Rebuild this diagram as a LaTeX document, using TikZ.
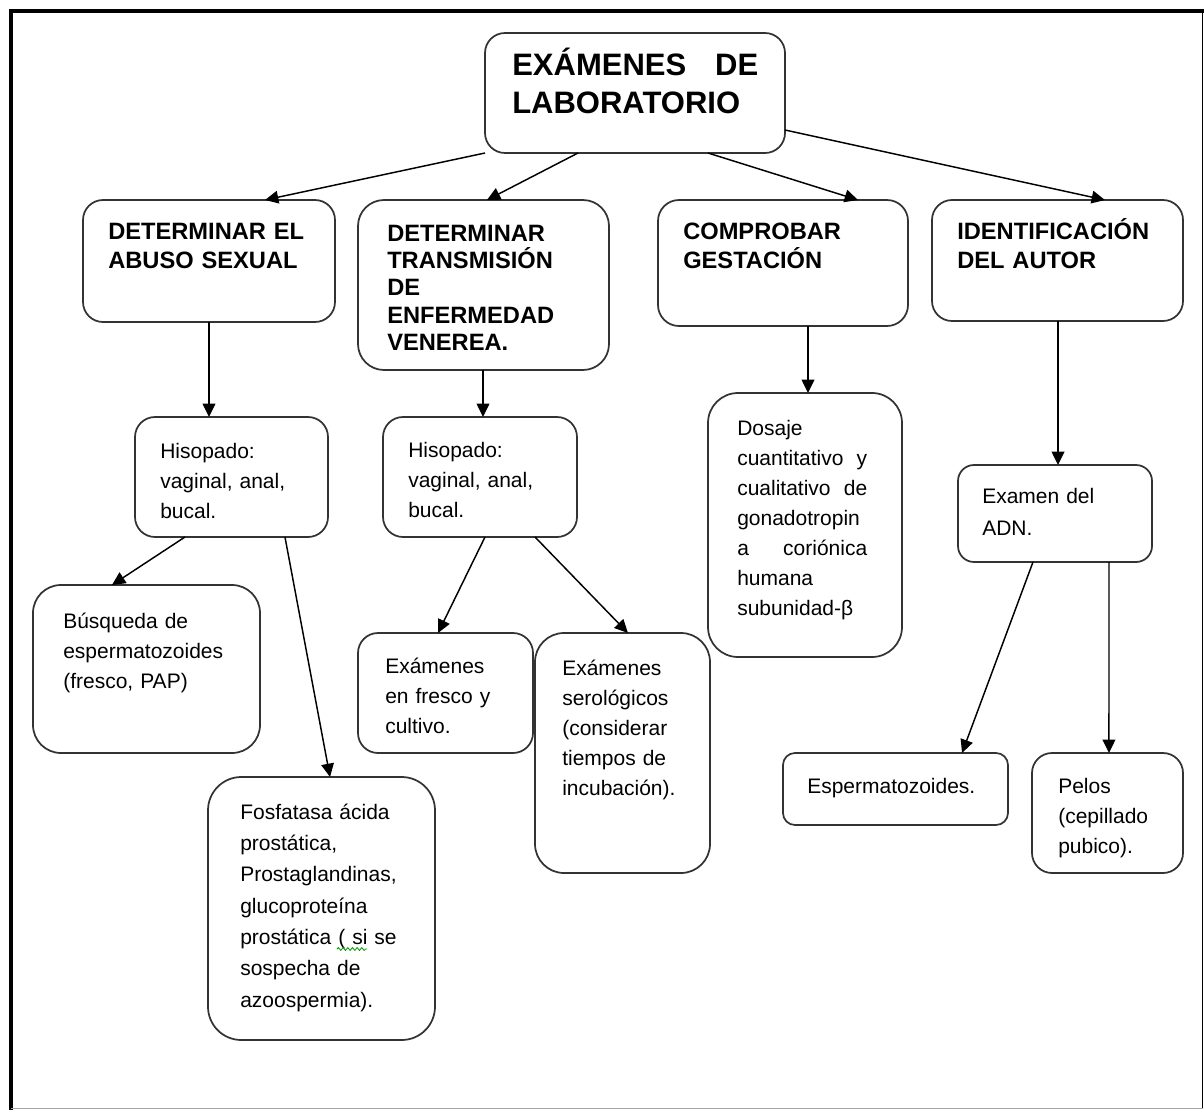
\documentclass[tikz,border=0pt]{standalone}
\usepackage{fontspec}
\setmainfont{Liberation Sans}
\usetikzlibrary{arrows.meta,decorations.pathmorphing}
\newcommand\titlefnt{\fontsize{23.25pt}{28.5pt}\selectfont\bfseries}
\newcommand\headfnt{\fontsize{17.75pt}{21.75pt}\selectfont\bfseries}
\newcommand\headfntb{\fontsize{17.75pt}{20.5pt}\selectfont\bfseries}
\newcommand\bodyfnt{\fontsize{15.75pt}{22.5pt}\selectfont}
\newcommand\bodyfntb{\fontsize{15.75pt}{23.5pt}\selectfont}
\newcommand\bodyfntc{\fontsize{15.75pt}{24pt}\selectfont}
\begin{document}
\begin{tikzpicture}[x=0.75pt,y=-0.75pt,
  box/.style={draw=black!80, line width=1.3pt, inner sep=0pt, outer sep=0pt, fill=white},
  txt/.style={anchor=base west, inner sep=0pt, text width=240pt, align=left},
  arr/.style={line width=1.1pt, -{Triangle[length=10pt,width=9.5pt]}}]
\fill[white] (0,0) rectangle (1204,1110);
\useasboundingbox (0,0) rectangle (1204,1110);
% frame
\draw[line width=3pt] (1204,10.5) -- (11,10.5) -- (11,1110);
\draw[line width=0.9pt] (1202.5,10.5) -- (1202.5,1108.5);
\draw[line width=0.75pt, black!35] (11,1108.5) -- (1202.5,1108.5);
% boxes
\node[box, rounded corners=15pt, minimum width=225pt, minimum height=90pt] (title) at (635,93) {};
\node[box, rounded corners=15pt, minimum width=189pt, minimum height=91.5pt] (h1) at (209,261) {};
\node[box, rounded corners=19.5pt, minimum width=188.25pt, minimum height=127.5pt] (h2) at (483.5,285) {};
\node[box, rounded corners=15.75pt, minimum width=187.5pt, minimum height=94.5pt] (h3) at (783,263) {};
\node[box, rounded corners=15pt, minimum width=188.25pt, minimum height=90.75pt] (h4) at (1057.5,260.5) {};
\node[box, rounded corners=15pt, minimum width=144.75pt, minimum height=90pt] (s1) at (231.5,477) {};
\node[box, rounded corners=15pt, minimum width=145.5pt, minimum height=90pt] (s2) at (480,477) {};
\node[box, rounded corners=22.5pt, minimum width=145.5pt, minimum height=198pt] (dos) at (805,525) {};
\node[box, rounded corners=12pt, minimum width=145.5pt, minimum height=72.75pt] (adn) at (1055,513.5) {};
\node[box, rounded corners=21pt, minimum width=170.25pt, minimum height=126pt] (bus) at (146.5,669) {};
\node[box, rounded corners=25pt, minimum width=170.25pt, minimum height=197.25pt] (fos) at (321.5,908.5) {};
\node[box, rounded corners=15pt, minimum width=131.25pt, minimum height=90pt] (fre) at (445.5,693) {};
\node[box, rounded corners=21.75pt, minimum width=131.25pt, minimum height=180pt] (ser) at (622.5,753) {};
\node[box, rounded corners=9pt, minimum width=168.75pt, minimum height=54pt] (esp) at (895.5,789) {};
\node[box, rounded corners=15pt, minimum width=113.25pt, minimum height=90pt] (pel) at (1107.5,813) {};
% texts
\node[txt, font=\titlefnt] (titlet) at (512,75) {\makebox[184.5pt][s]{EXÁMENES\hfill DE}\\LABORATORIO};
\node[txt, font=\headfnt] (h1t) at (108,239) {DETERMINAR EL\\ABUSO SEXUAL};
\node[txt, font=\headfntb] (h2t) at (387,241) {DETERMINAR\\TRANSMISIÓN\\DE\\ENFERMEDAD\\VENEREA.};
\node[txt, font=\headfnt] (h3t) at (683,239) {COMPROBAR\\GESTACIÓN};
\node[txt, font=\headfnt] (h4t) at (957,239) {IDENTIFICACIÓN\\DEL AUTOR};
\node[txt, font=\bodyfnt] (s1t) at (160,458) {Hisopado:\\vaginal, anal,\\bucal.};
\node[txt, font=\bodyfnt] (s2t) at (408,457) {Hisopado:\\vaginal, anal,\\bucal.};
\node[txt, font=\bodyfnt] (dost) at (737,435) {Dosaje\\\makebox[97.5pt][s]{cuantitativo\hfill y}\\\makebox[97.5pt][s]{cualitativo\hfill de}\\gonadotropin\\\makebox[97.5pt][s]{a\hfill coriónica}\\humana\\subunidad-β};
\node[txt, font=\bodyfntc] (adnt) at (982,503) {Examen del\\ADN.};
\node[txt, font=\bodyfnt] (bust) at (63,628) {Búsqueda de\\espermatozoides\\(fresco, PAP)};
\node[txt, font=\bodyfntb] (fost) at (240,819) {Fosfatasa ácida\\prostática,\\Prostaglandinas,\\glucoproteína\\prostática ( si se\\sospecha de\\azoospermia).};
\node[txt, font=\bodyfnt] (fret) at (385,673) {Exámenes\\en fresco y\\cultivo.};
\node[txt, font=\bodyfnt] (sert) at (562,675) {Exámenes\\serológicos\\(considerar\\tiempos de\\incubación).};
\node[txt, font=\bodyfnt] (espt) at (807,793) {Espermatozoides.};
\node[txt, font=\bodyfnt] (pelt) at (1058,793) {Pelos\\(cepillado\\pubico).};
% spell-check squiggle
\draw[green!60!black, line width=0.6pt, decorate, decoration={snake, amplitude=1.1pt, segment length=3.5pt}] (337,949) -- (367,949);
% connectors
\draw[arr] (title.south west) -- ([xshift=42pt]h1.north);
\draw[arr] ([xshift=-42.75pt]title.south) -- ([xshift=2.6pt]h2.north);
\draw[arr] ([xshift=54.75pt]title.south) -- ([xshift=56.25pt]h3.north);
\draw[arr] ([yshift=-27.75pt]title.east) -- ([xshift=35.6pt]h4.north);
\draw[arr] (h1.south) -- (h1.south |- s1.north);
\draw[arr] ([xshift=-0.375pt]h2.south) -- ([xshift=2.25pt]s2.north);
\draw[arr] ([xshift=18.75pt]h3.south) -- ([xshift=2.25pt]dos.north);
\draw[arr] ([xshift=0.375pt]h4.south) -- ([xshift=2.25pt]adn.north);
\draw[arr] ([xshift=-34.9pt]s1.south) -- ([xshift=-25.9pt]bus.north);
\draw[arr] ([xshift=40.1pt]s1.south) -- ([xshift=6.4pt]fos.north);
\draw[arr] ([xshift=3.75pt]s2.south) -- ([xshift=-5.6pt]fre.north);
\draw[arr] ([xshift=41.25pt]s2.south) -- ([xshift=4.1pt]ser.north);
\draw[arr] ([xshift=-16.5pt]adn.south) -- ([xshift=49.9pt]esp.north);
\draw[arr] ([xshift=40.5pt]adn.south) -- ([xshift=1.1pt]pel.north);
\end{tikzpicture}
\end{document}
